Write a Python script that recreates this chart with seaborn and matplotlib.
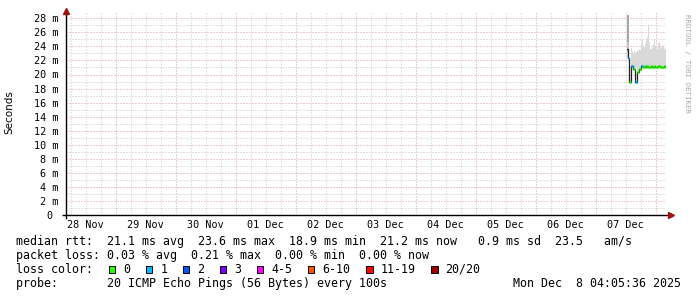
import numpy as np
import pandas as pd
import matplotlib
matplotlib.use("Agg")
import matplotlib.pyplot as plt
import matplotlib.dates as mdates
from matplotlib.patches import Rectangle
from matplotlib.ticker import MultipleLocator, FixedLocator, FixedFormatter, NullFormatter
import seaborn as sns

# ---------------- data ----------------
range_start = "2025-11-28 04:05:36"
range_end = "2025-12-08 04:05:36"
data_start = "2025-12-07 12:40"
data_step = "24min"

median_ms = [23.6, 22.3, 18.9, 18.9, 21.2, 21.2, 20.8, 20.8, 18.9, 18.9, 20.4, 20.4, 20.8,
             20.8, 21.2, 21.2, 21.0, 21.1, 21.2, 21.1, 21.2, 21.1, 21.0, 21.1, 21.2, 21.1,
             21.1, 21.2, 21.1, 21.0, 21.1, 21.2, 21.2, 21.1, 21.1, 21.0, 21.1, 21.2, 21.1]
loss_pings = [-1, 1, 0, 0, 1, 1, 0, 0, 1, 1, 0, 0, 0,
              0, 1, 1, 0, 0, 0, 0, 0, 0, 0, 0, 0, 0,
              0, 0, 0, 0, 0, 0, 0, 0, 0, 0, 0, 0, 0]
smoke_lo = [22.4, 22.3, 18.9, 18.9, 21.0, 21.0, 20.7, 20.7, 20.9, 20.9, 20.4, 20.4, 20.8,
            20.8, 21.0, 21.0, 20.9, 21.0, 21.0, 21.0, 21.0, 21.0, 21.0, 21.0, 21.0, 21.0,
            21.0, 21.0, 21.0, 21.0, 21.0, 21.0, 21.0, 21.0, 21.0, 21.0, 21.0, 21.0, 21.0]
smoke_hi = [28.5, 28.5, 19.3, 19.3, 23.8, 23.4, 22.9, 23.3, 23.0, 23.2, 23.4, 23.3, 23.6,
            23.5, 24.2, 25.1, 24.0, 23.9, 24.4, 24.7, 25.3, 27.0, 24.6, 23.7, 23.6, 23.8,
            24.3, 24.9, 24.0, 23.9, 23.7, 24.5, 24.6, 24.1, 23.8, 24.2, 24.0, 23.6, 23.8]
core_lo = [24.6, 24.6] + [np.nan] * 37
core_hi = [28.5, 28.5] + [np.nan] * 37

day_labels = ["28 Nov", "29 Nov", "30 Nov", "01 Dec", "02 Dec",
              "03 Dec", "04 Dec", "05 Dec", "06 Dec", "07 Dec"]
y_ticks = [0, 2, 4, 6, 8, 10, 12, 14, 16, 18, 20, 22, 24, 26, 28]

loss_names = ["0", "1", "2", "3", "4-5", "6-10", "11-19", "20/20"]
loss_colors = ["#26ff00", "#00b8ff", "#0059ff", "#7e00ff", "#ff00ff", "#ff5500", "#ff0000", "#a10000"]
loss_upper = [0, 1, 2, 3, 5, 10, 19, 20]

legend_rtt = "median rtt:  21.1 ms avg  23.6 ms max  18.9 ms min  21.2 ms now   0.9 ms sd  23.5   am/s"
legend_loss = "packet loss: 0.03 % avg  0.21 % max  0.00 % min  0.00 % now"
legend_probe = "probe:       20 ICMP Echo Pings (56 Bytes) every 100s"
stamp = "Mon Dec  8 04:05:36 2025"

# ---------------- figure ----------------
W, H = 697, 297
sns.set_style("white")
plt.rcParams["font.family"] = ["DejaVu Sans Mono", "DejaVu Sans"]
MONO = "DejaVu Sans Mono"

fig = plt.figure(figsize=(W / 100, H / 100), dpi=100)
fig.patch.set_facecolor("white")
ax_l, ax_r, ax_b, ax_t = 66, 666, 215, 12
ax = fig.add_axes([ax_l / W, 1 - ax_b / H, (ax_r - ax_l) / W, (ax_b - ax_t) / H])
ax.set_facecolor("white")

times = pd.date_range(data_start, periods=len(median_ms), freq=data_step)
df = pd.DataFrame({"time": times, "median": median_ms, "loss": loss_pings,
                   "lo": smoke_lo, "hi": smoke_hi, "clo": core_lo, "chi": core_hi})

# smoke (one column per step)
step_days = pd.Timedelta(data_step) / pd.Timedelta("1D")
xnum = mdates.date2num(df["time"])
ax.bar(xnum, df["hi"] - df["lo"], bottom=df["lo"], width=step_days, color="#d9d9d9",
       lw=0, zorder=2, align="center")
m = ~df["clo"].isna()
ax.bar(xnum[m], (df["chi"] - df["clo"])[m], bottom=df["clo"][m], width=step_days,
       color="#a6a6a6", lw=0, zorder=2)
ax.bar(xnum[m], np.full(m.sum(), 1.6), bottom=(df["clo"] - 1.6)[m], width=step_days,
       color="#c2c2c2", lw=0, zorder=2)

# median line (black connector)
sns.lineplot(data=df, x="time", y="median", drawstyle="steps-mid", color="#202020",
             lw=0.9, ax=ax, zorder=3, legend=False)

# loss-coloured median segments
def loss_color(n):
    if n < 0:
        return None
    for up, c in zip(loss_upper, loss_colors):
        if n <= up:
            return c
    return loss_colors[-1]

half = pd.Timedelta(data_step) / 2
for t, v, n in zip(df["time"], df["median"], df["loss"]):
    c = loss_color(n)
    if c is None:
        continue
    ax.hlines(v, t - half, t + half, colors=c, lw=2.3, zorder=4)

# axes limits / grid
ax.set_xlim(pd.Timestamp(range_start), pd.Timestamp(range_end))
ax.set_ylim(0, (ax_b - ax_t) / 7.025)
ax.xaxis.set_major_locator(mdates.DayLocator())
ax.xaxis.set_minor_locator(mdates.HourLocator(byhour=[6, 12, 18]))
ax.xaxis.set_major_formatter(NullFormatter())
ax.xaxis.set_minor_formatter(NullFormatter())
ax.yaxis.set_major_locator(FixedLocator(y_ticks))
ax.yaxis.set_minor_locator(MultipleLocator(1))
ax.yaxis.set_major_formatter(FixedFormatter([f"{v} m" if v else "0 " for v in y_ticks]))

grid_major = "#dc9a9a"
grid_minor = "#c4c4c4"
ax.grid(which="minor", color=grid_minor, lw=0.72, ls=(0, (1, 2)), zorder=1)
ax.grid(which="major", color=grid_major, lw=0.72, ls=(0, (1, 2)), zorder=1)
ax.set_axisbelow(True)
for s in ax.spines.values():
    s.set_visible(False)

ax.tick_params(axis="y", which="major", length=2.2, width=0.7, color=grid_major,
               pad=3.0, labelsize=7.3, labelcolor="black")
ax.tick_params(axis="y", which="minor", length=2.2, width=0.7, color=grid_minor)
ax.tick_params(axis="x", which="major", length=2.2, width=0.7, color=grid_major)
ax.tick_params(axis="x", which="minor", length=2.2, width=0.7, color=grid_minor)
for lab in ax.get_yticklabels():
    lab.set_family(MONO)

# day labels at noon
noons = pd.date_range("2025-11-28 12:00", periods=len(day_labels), freq="1D")
for t, lab in zip(noons, day_labels):
    ax.text(mdates.date2num(t), -13.3 / (ax_b - ax_t), lab, transform=ax.get_xaxis_transform(),
            ha="center", va="baseline", fontsize=7.3, family=MONO, color="black", clip_on=False)

# axis lines and arrows
aw = ax_r - ax_l
ah = ax_b - ax_t
ax.plot([-4 / aw, 1 + 2 / aw], [0, 0], transform=ax.transAxes, color="black", lw=1.0,
        clip_on=False, zorder=6, solid_capstyle="butt")
ax.plot([0, 0], [-4 / ah, 1], transform=ax.transAxes, color="black", lw=1.0,
        clip_on=False, zorder=6, solid_capstyle="butt")
ax.plot([1 + 4.5 / aw], [0], marker=">", ms=4.2, color="#a01010", mec="#a01010",
        transform=ax.transAxes, clip_on=False, zorder=7)
ax.plot([0], [1 + 1.5 / ah], marker="^", ms=4.2, color="#a01010", mec="#a01010",
        transform=ax.transAxes, clip_on=False, zorder=7)

ax.set_xlabel("")
ax.set_ylabel("")
fig.text(9.5 / W, 1 - 111.7 / H, "Seconds", rotation=90, ha="center", va="center",
         fontsize=7.5, family="DejaVu Sans", color="black")
fig.text(687.5 / W, 1 - 63 / H, "RRDTOOL / TOBI OETIKER", rotation=270, ha="center",
         va="center", fontsize=5.4, family=MONO, color="#a8a8a8")

# legend text block
FS = 8.4
CW = 7.02
def ftext(x, y, s, **kw):
    fig.text(x / W, 1 - y / H, s, fontsize=FS, family=MONO, va="baseline", color="black", **kw)

ftext(16, 245, legend_rtt)
ftext(16, 259, legend_loss)
ftext(16, 273, "loss color:")
ftext(16, 287, legend_probe)
ftext(681, 287, stamp, ha="right")

bx = 108.7
for name, col in zip(loss_names, loss_colors):
    fig.patches.append(Rectangle((bx / W, 1 - 272.7 / H), 6.6 / W, 7.0 / H,
                                 transform=fig.transFigure, facecolor=col,
                                 edgecolor="black", lw=0.7, figure=fig))
    tx = bx + 14.5
    ftext(tx, 273, name)
    bx = tx + len(name) * CW + 15.5

fig.savefig("out.png", dpi=100, facecolor="white")
